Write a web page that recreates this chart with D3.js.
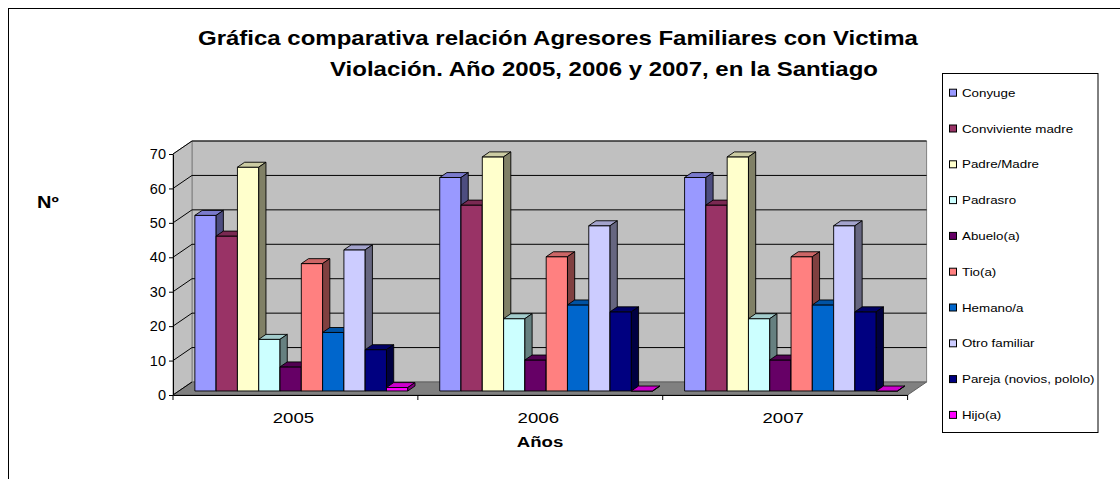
<!DOCTYPE html>
<html>
<head>
<meta charset="utf-8">
<script src="https://cdn.jsdelivr.net/npm/d3@7"></script>
<style>
	body { margin:0; background:#fff; }
	text { font-family:"Liberation Sans", Arial, sans-serif; fill:#000; }
</style>
</head>
<body>
<svg id="chart"></svg>
<script>
/*************** data *****************/
var years = ["2005", "2006", "2007"];
var relatives = ["Conyuge", "Conviviente madre", "Padre/Madre", "Padrasro", "Abuelo(a)",
	"Tio(a)", "Hemano/a", "Otro familiar", "Pareja (novios, pololo)", "Hijo(a)"];
var colors = ["#9999FF", "#993366", "#FFFFCC", "#CCFFFF", "#660066",
	"#FF8080", "#0066CC", "#CCCCFF", "#000080", "#FF00FF"];
var values2005 = [51, 45, 65, 15, 7, 37, 17, 41, 12, 1];
var values2006 = [62, 54, 68, 21, 9, 39, 25, 48, 23, 0];
var values2007 = [62, 54, 68, 21, 9, 39, 25, 48, 23, 0];
var yTicks = [0, 10, 20, 30, 40, 50, 60, 70];
var titleLines = ["Gráfica comparativa relación Agresores Familiares con Victima",
	"Violación. Año 2005, 2006 y 2007, en la Santiago"];
/*************** end data *************/

var width = 1120, height = 479;
var plot = {left:173, right:907.6, bottom:395, top:154},
	depth = {dx:19, dy:-13},	//full depth of the 3d box
	f0 = 0.31, f1 = 0.69,		//depth range of the bars
	sx = 1.2;					//the original picture is stretched horizontally

var table = [];
years.forEach(function(yr, i) {
	var vals = [values2005, values2006, values2007][i];
	relatives.forEach(function(r, j) {
		table.push({year:yr, rel:r, value:vals[j], color:colors[j]});
	});
});

var svg = d3.select("#chart").attr("width", width).attr("height", height);

/*********** scales ****************/
var x0 = d3.scaleBand().domain(years).range([plot.left, plot.right]);
var x1 = d3.scaleBand().domain(relatives).range([0, x0.bandwidth()]).paddingOuter(0.75);
var y = d3.scaleLinear().domain([0, 70]).range([plot.bottom, plot.top]);

function shade(c, k) {
	var rgb = d3.rgb(c);
	return d3.rgb(rgb.r * k, rgb.g * k, rgb.b * k).formatHex();
}
function poly(pts) { return "M" + pts.map(function(p) { return p.join(","); }).join("L") + "Z"; }

// stretched text helper
function stretchText(g, str, x, yy, size, bold, anchor, k) {
	return g.append("text")
		.attr("transform", "translate(" + x + "," + yy + ") scale(" + k + ",1)")
		.attr("text-anchor", anchor)
		.style("font-size", size + "px")
		.style("font-weight", bold ? "bold" : "normal")
		.text(str);
}

// outer frame
svg.append("rect").attr("x", 8.5).attr("y", 8.5).attr("width", 1300).attr("height", 800)
	.attr("fill", "none").attr("stroke", "#000");

/*********** walls and floor ****************/
var walls = svg.append("g");
var bx = plot.left + depth.dx, bxr = plot.right + depth.dx;
walls.append("path")	//back wall
	.attr("d", poly([[bx, y(0) + depth.dy], [bx, y(70) + depth.dy], [bxr, y(70) + depth.dy], [bxr, y(0) + depth.dy]]))
	.attr("fill", "#c0c0c0").attr("stroke", "#808080");
walls.append("path")	//left wall
	.attr("d", poly([[plot.left, y(0)], [plot.left, y(70)], [bx, y(70) + depth.dy], [bx, y(0) + depth.dy]]))
	.attr("fill", "#c0c0c0").attr("stroke", "#808080");
walls.append("path")	//floor
	.attr("d", poly([[plot.left, y(0)], [bx, y(0) + depth.dy], [bxr, y(0) + depth.dy], [plot.right, y(0)]]))
	.attr("fill", "#808080").attr("stroke", "#606060");

// gridlines
var grid = svg.append("g");
grid.selectAll("line.h").data(yTicks.slice(1)).enter().append("line")
	.attr("x1", bx).attr("x2", bxr)
	.attr("y1", function(d) { return y(d) + depth.dy; })
	.attr("y2", function(d) { return y(d) + depth.dy; })
	.attr("stroke", "#000");
grid.selectAll("line.d").data(yTicks).enter().append("line")
	.attr("x1", plot.left).attr("x2", bx)
	.attr("y1", function(d) { return y(d); })
	.attr("y2", function(d) { return y(d) + depth.dy; })
	.attr("stroke", "#000");

/*********** bars ****************/
var ddx = (f1 - f0) * depth.dx, ddy = (f1 - f0) * depth.dy;
var bars = svg.append("g").selectAll("g").data(table).enter().append("g");
bars.each(function(d) {
	var g = d3.select(this);
	var xl = x0(d.year) + x1(d.rel) + f0 * depth.dx,
		xr = xl + x1.bandwidth(),
		yt = y(d.value) + f0 * depth.dy,
		yb = y(0) + f0 * depth.dy;
	g.append("path").attr("d", poly([[xl, yb], [xl, yt], [xr, yt], [xr, yb]]))
		.attr("fill", d.color).attr("stroke", "#000").attr("stroke-width", 0.9);
	g.append("path").attr("d", poly([[xl, yt], [xl + ddx, yt + ddy], [xr + ddx, yt + ddy], [xr, yt]]))
		.attr("fill", shade(d.color, 0.8)).attr("stroke", "#000").attr("stroke-width", 0.9);
	g.append("path").attr("d", poly([[xr, yt], [xr + ddx, yt + ddy], [xr + ddx, yb + ddy], [xr, yb]]))
		.attr("fill", shade(d.color, 0.5)).attr("stroke", "#000").attr("stroke-width", 0.9);
});

/*********** axes ****************/
var yAxis = svg.append("g").attr("transform", "translate(" + plot.left + ",0)")
	.call(d3.axisLeft(y).tickValues(yTicks).tickSize(4).tickPadding(3).tickSizeOuter(0));
yAxis.selectAll("text").style("font-size", "14.5px").style("font-family", "Liberation Sans, Arial, sans-serif");

var xAxis = svg.append("g").attr("transform", "translate(0," + plot.bottom + ")")
	.call(d3.axisBottom(x0).tickSize(0).tickPadding(17).tickSizeOuter(0));
xAxis.selectAll("text").style("font-size", "15.5px").style("font-family", "Liberation Sans, Arial, sans-serif")
	.attr("transform", "scale(" + sx + ",1)");
xAxis.selectAll(".tick").attr("transform", function(d) {
	return "translate(" + (x0(d) + x0.bandwidth() / 2 - 2) + ",0)";
});
xAxis.selectAll("line.sep").data(years.concat(["end"])).enter().append("line")
	.attr("class", "sep")
	.attr("x1", function(d, i) { return plot.left + i * x0.step(); })
	.attr("x2", function(d, i) { return plot.left + i * x0.step(); })
	.attr("y1", 0).attr("y2", 5).attr("stroke", "#000");
svg.selectAll(".domain").attr("stroke", "#000");

/*********** titles ****************/
stretchText(svg, titleLines[0], 198, 45, 20, true, "start", 1.2);
stretchText(svg, titleLines[1], 330, 76, 20, true, "start", 1.2);
stretchText(svg, "Nº", 37, 208, 16, true, "start", 1.25);
stretchText(svg, "Años", 540, 447, 15.5, true, "middle", 1.2);

/*********** legend ****************/
var legend = svg.append("g");
legend.append("rect").attr("x", 942.5).attr("y", 73.5).attr("width", 155.5).attr("height", 359)
	.attr("fill", "#fff").attr("stroke", "#000");
var items = legend.selectAll("g.item").data(relatives).enter().append("g")
	.attr("transform", function(d, i) { return "translate(0," + (92.7 + i * 35.8) + ")"; });
items.append("rect").attr("x", 949.5).attr("y", -3.5).attr("width", 7).attr("height", 7)
	.attr("fill", function(d, i) { return colors[i]; }).attr("stroke", "#000");
items.each(function(d) {
	stretchText(d3.select(this), d, 962, 4, 11.5, false, "start", 1.16);
});
</script>
</body>
</html>
